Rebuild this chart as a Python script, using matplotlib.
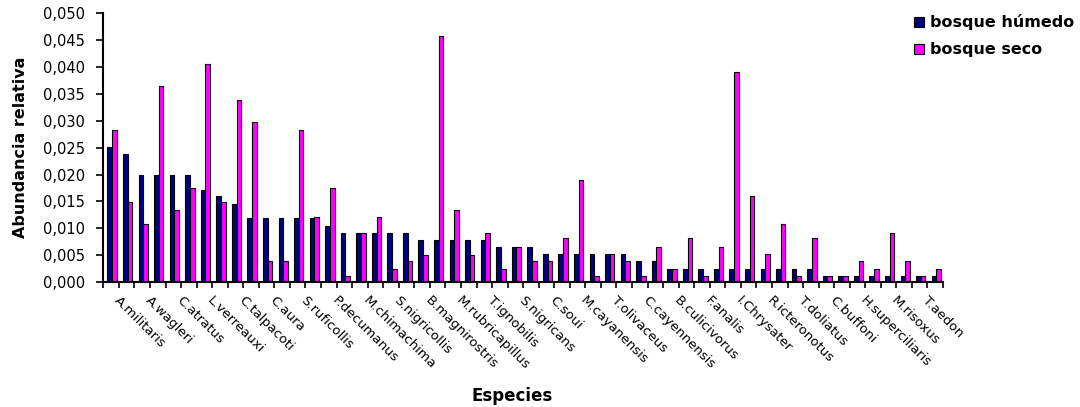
import matplotlib
matplotlib.use("Agg")
import matplotlib.pyplot as plt
import matplotlib.transforms as mtransforms
from matplotlib.ticker import FuncFormatter, FixedLocator
import numpy as np

species_labels = [
    "A.militaris", "A.wagleri", "C.atratus", "L.verreauxi", "C.talpacoti", "C.aura",
    "S.ruficollis", "P.decumanus", "M.chimachima", "S.nigricollis", "B.magnirostris",
    "M.rubricapillus", "T.ignobilis", "S.nigricans", "C.soui", "M.cayanensis",
    "T.olivaceus", "C.cayennensis", "B.culicivorus", "F.analis", "I.Chrysater",
    "R.icteronotus", "T.doliatus", "C.buffoni", "H.superciliaris", "M.risoxus", "T.aedon",
]

bosque_humedo = [
    0.0252, 0.0239, 0.0199, 0.0199, 0.0199, 0.0199, 0.0172, 0.0160, 0.0145, 0.0119,
    0.0119, 0.0119, 0.0119, 0.0119, 0.0104, 0.0092, 0.0092, 0.0092, 0.0092, 0.0092,
    0.0078, 0.0078, 0.0078, 0.0078, 0.0078, 0.0065, 0.0065, 0.0065, 0.0052, 0.0052,
    0.0052, 0.0052, 0.0052, 0.0052, 0.0039, 0.0039, 0.0025, 0.0025, 0.0025, 0.0025,
    0.0025, 0.0025, 0.0025, 0.0025, 0.0025, 0.0025, 0.0012, 0.0012, 0.0012, 0.0012,
    0.0012, 0.0012, 0.0012, 0.0012,
]

bosque_seco = [
    0.0283, 0.0148, 0.0107, 0.0365, 0.0134, 0.0174, 0.0405, 0.0148, 0.0339, 0.0297,
    0.0039, 0.0039, 0.0283, 0.0121, 0.0174, 0.0012, 0.0092, 0.0121, 0.0025, 0.0039,
    0.0051, 0.0458, 0.0134, 0.0051, 0.0092, 0.0025, 0.0065, 0.0039, 0.0039, 0.0081,
    0.0189, 0.0012, 0.0052, 0.0039, 0.0012, 0.0065, 0.0025, 0.0081, 0.0012, 0.0065,
    0.0391, 0.0160, 0.0052, 0.0107, 0.0012, 0.0081, 0.0012, 0.0012, 0.0039, 0.0025,
    0.0092, 0.0039, 0.0012, 0.0025,
]

n = len(bosque_humedo)
x = np.arange(n)

fig = plt.figure(figsize=(10.8, 4.07), dpi=100)
ax = fig.add_axes([103.3 / 1080, 1 - 282 / 407, 839.7 / 1080, (282 - 13.3) / 407])

w = 0.3
ax.bar(x - 0.08, bosque_humedo, width=w, color="#000080", edgecolor="black",
       linewidth=0.8, label="bosque húmedo", zorder=2)
ax.bar(x + 0.22, bosque_seco, width=w, color="#FF00FF", edgecolor="black",
       linewidth=0.8, label="bosque seco", zorder=2)

ax.set_xlim(-0.5, n - 0.5)
ax.set_ylim(0, 0.05)
ax.set_yticks(np.arange(0, 0.0501, 0.005))
ax.yaxis.set_major_formatter(FuncFormatter(lambda v, p: f"{v:.3f}".replace(".", ",")))

# ticks between categories, labels every other category
ax.xaxis.set_major_locator(FixedLocator(np.arange(-0.5, n, 1.0)))
ax.xaxis.set_major_formatter(FuncFormatter(lambda v, p: ""))
ax.xaxis.set_minor_locator(FixedLocator(x[::2]))
ax.set_xticklabels(species_labels, minor=True)
ax.tick_params(axis="x", which="major", direction="out", length=4, width=1.2)
ax.tick_params(axis="x", which="minor", length=0, pad=12, labelsize=9.5)
ax.tick_params(axis="y", direction="out", length=5, width=1.2, pad=8, labelsize=10.5)

offset = mtransforms.ScaledTranslation(5 / 100, 0, fig.dpi_scale_trans)
for lab in ax.get_xticklabels(minor=True):
    lab.set_rotation(-45)
    lab.set_rotation_mode("anchor")
    lab.set_ha("left")
    lab.set_va("center")
    lab.set_transform(lab.get_transform() + offset)

for s in ["top", "right"]:
    ax.spines[s].set_visible(False)
for s in ["left", "bottom"]:
    ax.spines[s].set_linewidth(1.5)

ax.set_ylabel("Abundancia relativa", fontsize=11.5, fontweight="bold", labelpad=11)
fig.text(512 / 1080, 1 - 396 / 407, "Especies", fontsize=12, fontweight="bold",
         ha="center", va="center")

fig.legend(loc="upper left", bbox_to_anchor=(900 / 1080, 1.0), frameon=False,
           prop={"size": 11.5, "weight": "bold"}, handlelength=0.6, handleheight=0.6,
           handletextpad=0.4, labelspacing=0.75)

fig.savefig("out.png", dpi=100)
